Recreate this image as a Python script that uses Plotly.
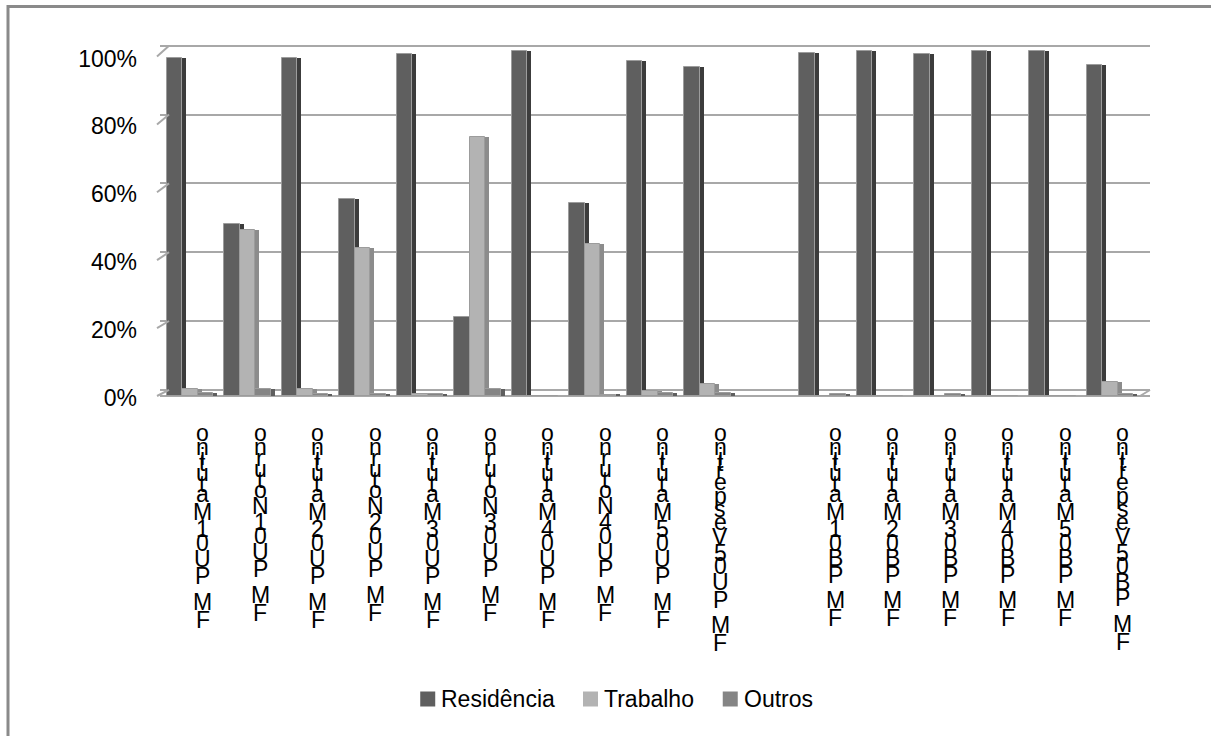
import plotly.graph_objects as go

# --- data -------------------------------------------------------------
labels = [
    "FM PU01Matutino", "FM PU01Noturno", "FM PU02Matutino", "FM PU02Noturno",
    "FM PU03Matutino", "FM PU03Noturno", "FM PU04Matutino", "FM PU04Noturno",
    "FM PU05Matutino", "FM PU05Vespertino", "",
    "FM PB01Matutino", "FM PB02Matutino", "FM PB03Matutino", "FM PB04Matutino",
    "FM PB05Matutino", "FM PB05Vespertino",
]
residencia = [98, 50, 98, 57, 99, 23, 100, 56, 97, 95.5, None, 99.5, 100, 99, 100, 100, 96]
trabalho = [2, 48, 2, 43, 0.5, 75, 0, 44, 1.5, 3.5, None, 0, 0, 0, 0, 0, 4]
outros = [1, 2, 0.5, 0.5, 0.5, 2, 0, 0.3, 1, 1, None, 0.5, 0, 0.7, 0, 0, 0.5]
y_ticks = [0, 20, 40, 60, 80, 100]
y_tick_text = ["0%", "20%", "40%", "60%", "80%", "100%"]

series = [
    ("Residência", residencia, "#5f5f5f", "#3c3c3c"),
    ("Trabalho", trabalho, "#b3b3b3", "#8c8c8c"),
    ("Outros", outros, "#858585", "#5e5e5e"),
]

# --- layout geometry (pixels) ----------------------------------------
W, H = 1211, 736
L, R, T, B = 160, 61, 40, 336
PLOT_W = W - L - R
PLOT_H = H - T - B
FONT = "Arial, Liberation Sans, sans-serif"
x_pos = list(range(len(labels)))


def px_x(p):
    return (p - L) / PLOT_W


def px_y(p):
    return (H - B - p) / PLOT_H


FRONT_W, SIDE_W = 0.27, 0.07
offsets = [-0.42, -0.15, 0.12]

fig = go.Figure()

for (name, vals, front, side), off in zip(series, offsets):
    fig.add_trace(go.Bar(
        x=x_pos, y=vals, name=name, offset=off, width=FRONT_W,
        marker=dict(color=front, line=dict(color="#9c9c9c", width=1)),
        hoverinfo="skip", showlegend=False,
    ))
    fig.add_trace(go.Bar(
        x=x_pos, y=vals, name=name + " lado", offset=off + FRONT_W, width=SIDE_W,
        marker=dict(color=side, line=dict(width=0)), showlegend=False,
        hoverinfo="skip",
    ))

# back-wall gridlines and the percentage labels use their own overlaid axes
fig.add_trace(go.Scatter(x=[0], y=[0], yaxis="y2", mode="none",
                         showlegend=False, hoverinfo="skip"))
fig.add_trace(go.Scatter(x=[0], y=[0], yaxis="y3", mode="none",
                         showlegend=False, hoverinfo="skip"))

# --- category labels: upright characters stacked bottom-to-top -------
adv = {"F": 611, "M": 833, " ": 278, "P": 667, "U": 722, "B": 667,
       "a": 556, "t": 278, "u": 556, "i": 222, "n": 556, "o": 556,
       "N": 722, "r": 333, "e": 556, "s": 500, "p": 556, "V": 667,
       "R": 722, "d": 556, "ê": 556, "c": 500, "T": 611, "b": 556,
       "l": 222, "h": 556, "O": 778}
STEP = 25.0 / 1000.0
annotations = []
for idx, lab in enumerate(labels):
    if not lab:
        continue
    ypx = 433.0
    prev = None
    for ch in reversed(lab):
        w = adv.get(ch, 556)
        if prev is not None:
            ypx += (prev + w) / 2 * STEP
        prev = w
        if ch == " ":
            continue
        annotations.append(dict(
            x=idx, xref="x", xshift=12, y=px_y(ypx), yref="paper",
            text=ch, showarrow=False, xanchor="center", yanchor="middle",
            font=dict(family=FONT, size=23, color="#000000"),
        ))

# --- legend: square swatch + text, centred under the chart ----------
LEG_SIZE = 23
SQ, GAP_TXT, GAP_ITEM = 15, 5, 29
LEG_CX, LEG_CY = 616, 699
text_w = [sum(adv.get(c, 556) for c in s[0]) / 1000 * LEG_SIZE for s in series]
total = sum(SQ + GAP_TXT + tw for tw in text_w) + GAP_ITEM * (len(series) - 1)
xcur = LEG_CX - total / 2

shapes = []
for (name, vals, front, side), tw in zip(series, text_w):
    shapes.append(dict(
        type="rect", xref="paper", yref="paper", line=dict(width=0),
        fillcolor=front, x0=px_x(xcur), x1=px_x(xcur + SQ),
        y0=px_y(LEG_CY + SQ / 2), y1=px_y(LEG_CY - SQ / 2),
    ))
    annotations.append(dict(
        x=px_x(xcur + SQ + GAP_TXT), xref="paper", y=px_y(LEG_CY), yref="paper",
        text=name, showarrow=False, xanchor="left", yanchor="middle",
        borderpad=0, font=dict(family=FONT, size=LEG_SIZE, color="#000000"),
    ))
    xcur += SQ + GAP_TXT + tw + GAP_ITEM

# --- axis scales ------------------------------------------------------
px_per_unit = 3.45
y0 = -(H - B - 396) / px_per_unit          # bars: front face scale
y1 = y0 + PLOT_H / px_per_unit
g_unit = 3.44
g0 = 20 - (H - B - 321) / g_unit           # back wall gridlines
g1 = g0 + PLOT_H / g_unit
l_unit = 3.395
l0 = -(H - B - 398) / l_unit               # side-wall percentage labels
l1 = l0 + PLOT_H / l_unit

# short diagonals joining the side wall to each back-wall gridline
for v in y_ticks:
    fy = 398 - v * l_unit
    by = (H - B) - (v - g0) * g_unit
    shapes.append(dict(
        type="line", xref="paper", yref="paper",
        x0=px_x(157), y0=px_y(fy - 2), x1=px_x(169), y1=px_y(by),
        line=dict(color="#a8a8a8", width=2),
    ))

# floor: right-hand diagonal from the front edge to the back edge
shapes.append(dict(
    type="line", xref="paper", yref="paper",
    x0=px_x(1140), y0=px_y(396), x1=px_x(1150), y1=px_y(390),
    line=dict(color="#a8a8a8", width=2),
))

# chart frame (left and top edges)
shapes += [
    dict(type="line", xref="paper", yref="paper", x0=px_x(8), x1=px_x(8),
         y0=px_y(5), y1=px_y(740), line=dict(color="#8a8a8a", width=3)),
    dict(type="line", xref="paper", yref="paper", x0=px_x(7), x1=px_x(1215),
         y0=px_y(6.5), y1=px_y(6.5), line=dict(color="#8a8a8a", width=3)),
]

fig.update_layout(
    width=W, height=H,
    margin=dict(l=L, r=R, t=T, b=B, autoexpand=False),
    paper_bgcolor="white", plot_bgcolor="rgba(0,0,0,0)",
    barmode="overlay", bargap=0, showlegend=False,
    font=dict(family=FONT, size=23, color="#000000"),
    xaxis=dict(
        range=[-0.539, -0.539 + PLOT_W / 57.5],
        showticklabels=False, showgrid=False, zeroline=False, showline=False,
        ticks="", fixedrange=True,
    ),
    yaxis=dict(
        range=[y0, y1], showticklabels=False, showgrid=False,
        zeroline=True, zerolinecolor="#a8a8a8", zerolinewidth=2,
        showline=False, ticks="",
    ),
    yaxis2=dict(
        range=[g0, g1], overlaying="y", tickvals=y_ticks,
        showticklabels=False, showgrid=True, gridcolor="#a8a8a8", gridwidth=2,
        zeroline=False, showline=False, ticks="",
    ),
    yaxis3=dict(
        range=[l0, l1], overlaying="y", side="left", anchor="x",
        tickvals=y_ticks, ticktext=y_tick_text,
        showgrid=False, zeroline=False, showline=False, ticks="",
        ticklabelstandoff=22,
        tickfont=dict(family=FONT, size=23, color="#000000"),
    ),
    annotations=annotations,
    shapes=shapes,
)

fig.write_html("out.html")
